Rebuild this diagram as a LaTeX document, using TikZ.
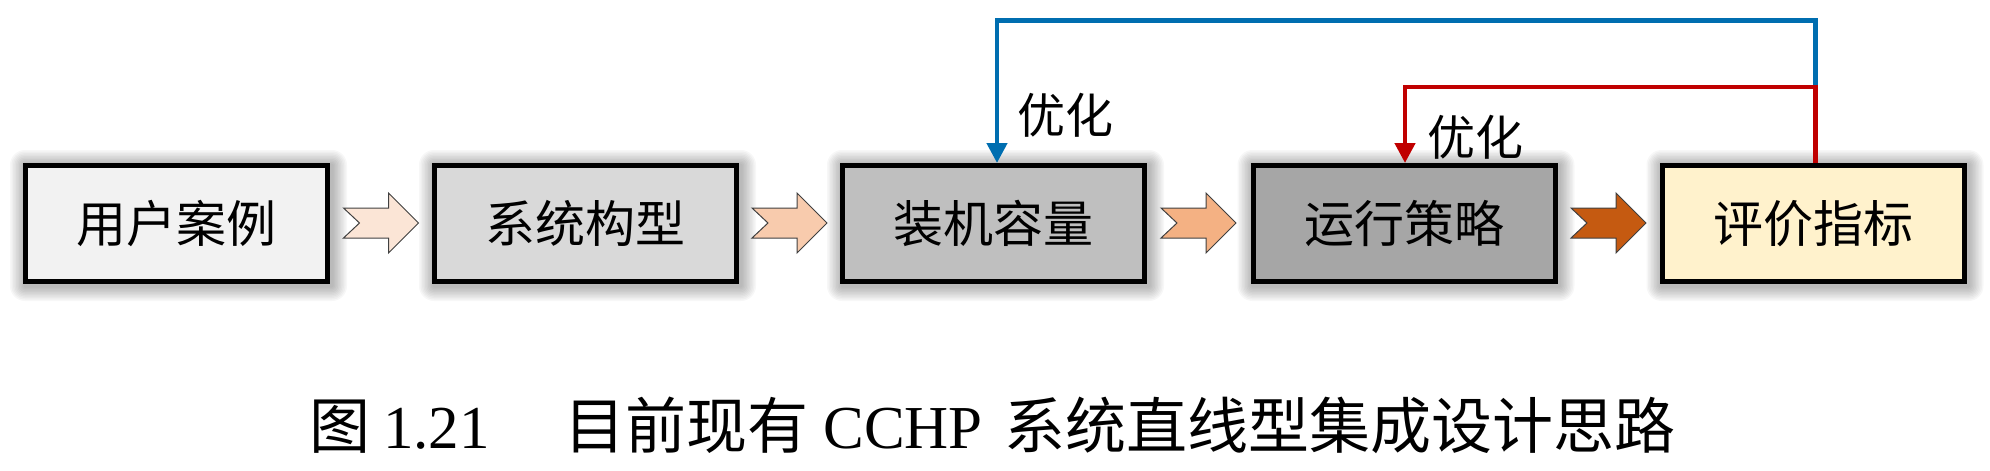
\documentclass[tikz,border=0pt]{standalone}
\usepackage{fontspec}
\setmainfont{Liberation Serif}
\newfontfamily\cjk{Noto Sans CJK SC}
\usetikzlibrary{arrows.meta,calc}
\definecolor{ch1}{HTML}{FBE5D6}
\definecolor{ch2}{HTML}{F8CBAD}
\definecolor{ch3}{HTML}{F4B183}
\definecolor{ch4}{HTML}{C55A11}
\definecolor{bx1}{HTML}{F2F2F2}
\definecolor{bx2}{HTML}{D9D9D9}
\definecolor{bx3}{HTML}{BFBFBF}
\definecolor{bx4}{HTML}{A6A6A6}
\definecolor{bx5}{HTML}{FFF2CC}
\definecolor{fbblue}{HTML}{006EB0}
\definecolor{fbred}{HTML}{C00000}
\definecolor{chline}{HTML}{404040}
\pgfdeclarelayer{bg}
\pgfsetlayers{bg,main}
\begin{document}
\begin{tikzpicture}[x=1pt,y=-1pt,
  stage/.style={draw=black, line width=5pt, minimum width=302pt, minimum height=116pt,
    inner sep=0pt, font=\cjk\fontsize{50}{50}\selectfont},
  chev/.style={draw=chline, line width=1pt},
  fb/.style={line width=4.5pt, line join=miter},
  optlabel/.style={inner sep=0pt, font=\cjk\fontsize{48}{48}\selectfont},
  caption/.style={inner sep=0pt, font=\fontsize{61}{61}\selectfont}]
\useasboundingbox (0,0) rectangle (1990,471);
% stages
\node[stage, fill=bx1] (b1) at (176.5,223.5) {用户案例};
\node[stage, fill=bx2] (b2) at (585.5,223.5) {系统构型};
\node[stage, fill=bx3] (b3) at (993.5,223.5) {装机容量};
\node[stage, fill=bx4] (b4) at (1404,223.5) {运行策略};
\node[stage, fill=bx5] (b5) at (1813,223.5) {评价指标};
% soft shadows
\begin{pgfonlayer}{bg}
\foreach \b in {b1,b2,b3,b4,b5}{
  \foreach \k in {1,...,10}{
    \fill[black, opacity=0.03, rounded corners=1.5*\k pt]
      ($(\b.south west)+(2-1.5*\k,2+1.5*\k)$) rectangle ($(\b.north east)+(2+1.5*\k,2-1.5*\k)$);
  }
}
\end{pgfonlayer}
% chevrons
\coordinate (a1) at (381,223);
\coordinate (a2) at (789.5,223);
\coordinate (a3) at (1198.5,223);
\coordinate (a4) at (1608.5,223);
\foreach \n/\c in {a1/ch1,a2/ch2,a3/ch3,a4/ch4}
  \filldraw[chev, fill=\c, shift={(\n)}] (-37.5,-15) -- (7.5,-15) -- (7.5,-30) -- (37.5,0)
    -- (7.5,30) -- (7.5,15) -- (-37.5,15) -- (-21.5,0) -- cycle;
% feedback loops
\coordinate (bl) at (997,20.5);
\coordinate (rl) at (1405,87);
\draw[fb, draw=fbblue, -{Triangle[length=20pt,width=20pt,fill=fbblue]}] ([xshift=2.5pt]b5.north) |- (bl) -- (bl |- b3.north);
\draw[fb, draw=fbred, -{Triangle[length=20pt,width=20pt,fill=fbred]}] ([xshift=2.5pt]b5.north) |- (rl) -- (rl |- b4.north);
\node[optlabel] (l1) at (1065,115) {优化};
\node[optlabel] (l2) at (1475,137) {优化};
% caption
\node[caption] (cap) at (992.5,425) {{\cjk 图}\hspace{0.2em}1.21\hspace{1.22em}{\cjk 目前现有}\hspace{0.25em}CCHP\hspace{0.35em}{\cjk 系统直线型集成设计思路}};
\end{tikzpicture}
\end{document}
